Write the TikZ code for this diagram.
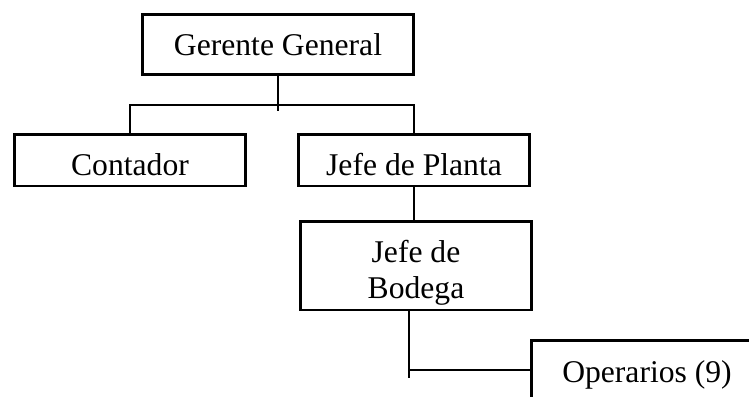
\documentclass[tikz,border=0pt]{standalone}
\usepackage{fontspec}
\setmainfont{Liberation Serif}
\usepackage{tikz}

\tikzset{
  puesto/.style={draw=black,line width=1.7pt,minimum width=4.64cm,minimum height=1.04cm,
    inner sep=1pt,font=\fontsize{18}{21}\selectfont,text height=0.62cm,text depth=0pt},
  enlace/.style={draw=black,line width=0.7pt}
}

\begin{document}
\begin{tikzpicture}[x=0.02cm,y=-0.02cm]
\useasboundingbox (0,0) rectangle (749,396);
\node[puesto,minimum width=5.44cm,minimum height=1.2cm,text height=0.44cm] (gg) at (278,44.5) {Gerente General};
\node[puesto] (cont) at (130,160) {Contador};
\node[puesto] (jp) at (414,160) {Jefe de Planta};
\node[puesto,minimum height=1.78cm,align=center,text height=,text depth=] (jb) at (416,265.5) {\rule{0pt}{21pt}Jefe de\\Bodega};
\node[puesto,minimum height=1.2cm,text height=0.6cm,text depth=0.12cm] (ops) at (647,370) {Operarios (9)};

\coordinate (tee) at (278,111);
\coordinate (bar) at (278,105);
\coordinate (drop) at (409,378);

\draw[enlace] (gg.south) -- (tee);
\draw[enlace] (cont.north) -- (cont.north |- bar) -- (jp.north |- bar) -- (jp.north);
\draw[enlace] (jp.south) -- (jp.south |- jb.north);
\draw[enlace] (jb.south -| drop) -- (drop);
\draw[enlace] (ops.west -| drop) -- (ops.west);
\end{tikzpicture}
\end{document}
